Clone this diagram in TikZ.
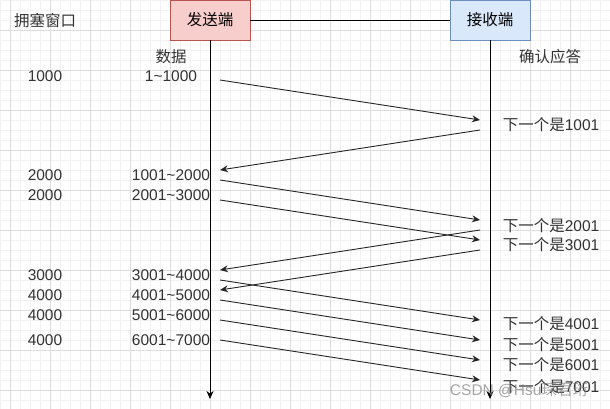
\documentclass[tikz,border=0pt]{standalone}
\usepackage{fontspec}
\setmainfont{Liberation Sans}
\newfontfamily\cjk{Noto Sans CJK SC}
\usetikzlibrary{arrows.meta}
\definecolor{sendfill}{HTML}{F8CECC}
\definecolor{senddraw}{HTML}{B85450}
\definecolor{recvfill}{HTML}{DAE8FC}
\definecolor{recvdraw}{HTML}{6C8EBF}
\definecolor{minorgrid}{HTML}{F2F2F2}
\definecolor{majorgrid}{HTML}{DDDDDD}
\tikzset{
  msg/.style={-{Stealth[length=8pt,width=7pt]},line width=0.9pt,black!85},
  lifeline/.style={-{Stealth[length=8pt,width=7pt]},line width=0.9pt},
  endbox/.style={draw,line width=0.8pt,minimum width=80pt,minimum height=40pt,inner sep=0pt},
  lbl/.style={inner sep=0pt,text=black!80}
}
\begin{document}
\begin{tikzpicture}[x=1pt,y=-1pt,font=\fontsize{15.5}{16}\selectfont]
\useasboundingbox (0,0) rectangle (610,409);
\fill[white] (0,0) rectangle (610,409);
\foreach \x in {0,10,...,610} \draw[minorgrid,line width=0.6pt] (\x,0) -- (\x,409);
\foreach \y in {0,10,...,400} \draw[minorgrid,line width=0.6pt] (0,\y) -- (610,\y);
\foreach \x in {10,50,...,610} \draw[majorgrid,line width=0.8pt] (\x,0) -- (\x,409);
\foreach \y in {30,70,...,390} \draw[majorgrid,line width=0.8pt] (0,\y) -- (610,\y);

\node[endbox,fill=sendfill,draw=senddraw] (send) at (210,20) {\cjk 发送端};
\node[endbox,fill=recvfill,draw=recvdraw] (recv) at (490,20) {\cjk 接收端};
\draw[line width=0.9pt] (send) -- (recv);
\coordinate (sendend) at (210,399);
\coordinate (recvend) at (490,399);
\draw[lifeline] (send.south) -- (sendend);
\draw[lifeline] (recv.south) -- (recvend);

\node[lbl] (cwnd) at (45,21) {\cjk 拥塞窗口};
\node[lbl] (data) at (171,57) {\cjk 数据};
\node[lbl] (ack) at (550,57) {\cjk 确认应答};

\foreach \y/\w/\a/\b [count=\i] in {76/1000/1/1000,175/2000/1001/2000,195/2000/2001/3000,
    275/3000/3001/4000,295/4000/4001/5000,315/4000/5001/6000,340/4000/6001/7000} {
  \node[lbl] (win\i) at (45,\y) {\w};
  \node[lbl] (seg\i) at (171,\y) {\a\textasciitilde\b};
}
\foreach \y/\n [count=\i] in {125/1001,226/2001,245/3001,324/4001,345/5001,365/6001,387/7001}
  \node[lbl] (next\i) at (551,\y) {{\cjk 下一个是}\n};

% data segments
\foreach \y [count=\i] in {80,180,200,280,300,320,340} {
  \coordinate (sa\i) at (220,\y);
  \coordinate (sb\i) at (480,\y+40);
  \draw[msg] (sa\i) -- (sb\i);
}
% acknowledgements
\foreach \y [count=\i] in {130,230,250} {
  \coordinate (ra\i) at (480,\y);
  \coordinate (rb\i) at (220,\y+40);
  \draw[msg] (ra\i) -- (rb\i);
}

\node[inner sep=0pt,text=gray,opacity=0.7] (mark) at (519,390) {CSDN @Hsu{\cjk 琛君珩}};
\end{tikzpicture}
\end{document}
